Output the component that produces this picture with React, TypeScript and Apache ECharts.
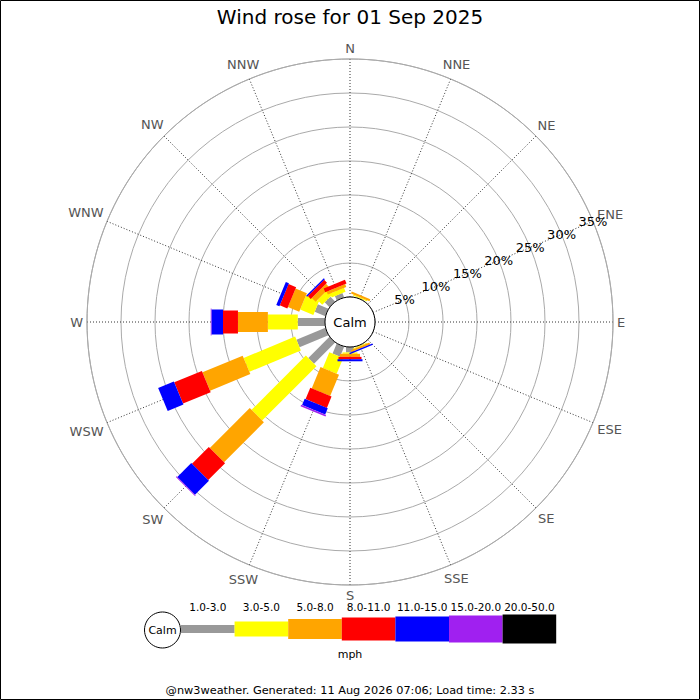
import React, { useEffect, useRef } from "react";
import * as echarts from "echarts";

// ---- data (percent of observations) ----
const DIRECTIONS = ["N", "NNE", "NE", "ENE", "E", "ESE", "SE", "SSE", "S", "SSW", "SW", "WSW", "W", "WNW", "NW", "NNW"];
const SPEED_BINS = ["1.0-3.0", "3.0-5.0", "5.0-8.0", "8.0-11.0", "11.0-15.0", "15.0-20.0", "20.0-50.0"];
const RADIAL_TICKS = [0, 5, 10, 15, 20, 25, 30, 35];

//                 N    NNE   NE  ENE  E  ESE  SE  SSE   S     SSW  SW    WSW  W    WNW  NW   NNW
const BIN_1_3   = [0, 0.1,  0, 0, 0, 0, 0, 0.1, 0.8,  1.6, 4.4,  4.6, 4.0, 1.7, 1.0, 0.7];
const BIN_3_5   = [0, 0.15, 0, 0, 0, 0, 0, 0.1, 0.2,  2.5, 11.3, 8.2, 4.4, 2.1, 1.0, 0.6];
const BIN_5_8   = [0, 0.3,  0, 0, 0, 0, 0, 0.3, 0.45, 3.4, 8.3,  6.4, 4.4, 1.8, 0.8, 0.45];
const BIN_8_11  = [0, 0,    0, 0, 0, 0, 0, 0,   0.35, 1.8, 3.5,  4.4, 2.2, 1.2, 0.6, 0.6];
const BIN_11_15 = [0, 0,    0, 0, 0, 0, 0, 0.2, 0.3,  1.0, 2.9,  2.5, 1.7, 0.5, 0.2, 0];
const BIN_15_20 = [0, 0,    0, 0, 0, 0, 0, 0,   0,    0.25, 0.15, 0,  0.1, 0,   0,   0];
const BIN_20_50 = [0, 0,    0, 0, 0, 0, 0, 0,   0,    0,   0,    0,   0,   0,   0,   0];

const BIN_VALUES = [BIN_1_3, BIN_3_5, BIN_5_8, BIN_8_11, BIN_11_15, BIN_15_20, BIN_20_50];

// ---- styles ----
const BIN_COLORS = ["#999999", "#ffff00", "#ffa500", "#ff0000", "#0000ff", "#a020f0", "#000000"];
const BIN_WIDTHS = [8, 15, 20, 23, 25, 27, 29];
const CENTER: [number, number] = [350, 322];
const R_INNER = 25;
const R_OUTER = 263;
const FONT = "DejaVu Sans";
const DIR_FONT_SIZE = 13;

function measure(text: string, size: number): number {
  try {
    const ctx = document.createElement("canvas").getContext("2d");
    if (ctx) {
      ctx.font = `${size}px "${FONT}"`;
      return ctx.measureText(text).width;
    }
  } catch (e) {
    /* ignore */
  }
  return text.length * size * 0.7;
}

function buildSeries() {
  const cum = DIRECTIONS.map(() => 0);
  return BIN_VALUES.map((vals, b) => {
    const data: number[][] = [];
    vals.forEach((v, d) => {
      const start = cum[d];
      const end = start + v;
      cum[d] = end;
      if (v > 0) data.push([start, end, d * 22.5]);
    });
    const halfW = BIN_WIDTHS[b] / 2;
    const color = BIN_COLORS[b];
    return {
      type: "custom",
      name: SPEED_BINS[b],
      coordinateSystem: "polar",
      polarIndex: 0,
      dimensions: ["start", "end", "angle"],
      encode: { radius: 1, angle: 2 },
      z: 3,
      data,
      renderItem: (params: any, api: any) => {
        const s = api.value(0);
        const e = api.value(1);
        const a = api.value(2);
        const cs = params.coordSys;
        const p0 = api.coord([s, a]);
        const p1 = api.coord([e, a]);
        const dx = p1[0] - cs.cx;
        const dy = p1[1] - cs.cy;
        const len = Math.hypot(dx, dy) || 1;
        const ux = dx / len;
        const uy = dy / len;
        const nx = -uy * halfW;
        const ny = ux * halfW;
        return {
          type: "polygon",
          shape: {
            points: [
              [p0[0] + nx, p0[1] + ny],
              [p1[0] + nx, p1[1] + ny],
              [p1[0] - nx, p1[1] - ny],
              [p0[0] - nx, p0[1] - ny],
            ],
          },
          style: { fill: color, stroke: null },
        };
      },
    };
  });
}

// Compass labels placed just outside the outer ring, through the polar coordinate system
function buildDirectionLabels() {
  const rMax = RADIAL_TICKS[RADIAL_TICKS.length - 1];
  return {
    type: "custom",
    name: "directions",
    coordinateSystem: "polar",
    polarIndex: 0,
    dimensions: ["radius", "angle"],
    encode: { radius: 0, angle: 1 },
    silent: true,
    z: 4,
    data: DIRECTIONS.map((_, i) => [rMax, i * 22.5]),
    renderItem: (params: any, api: any) => {
      const name = DIRECTIONS[params.dataIndex];
      const cs = params.coordSys;
      const p = api.coord([api.value(0), api.value(1)]);
      const dx = p[0] - cs.cx;
      const dy = p[1] - cs.cy;
      const len = Math.hypot(dx, dy) || 1;
      const ux = dx / len;
      const uy = dy / len;
      const hw = measure(name, DIR_FONT_SIZE) / 2;
      const hh = 6.5;
      const d = 4 + hw * Math.abs(ux) + hh * Math.abs(uy);
      return {
        type: "text",
        x: p[0] + ux * d,
        y: p[1] + uy * d,
        style: {
          text: name,
          fill: "#555555",
          font: `${DIR_FONT_SIZE}px "${FONT}"`,
          align: "center",
          verticalAlign: "middle",
        },
      };
    },
  };
}

function buildLegend() {
  const els: any[] = [];
  const x0 = 181;
  const segW = 53.6;
  const cy = 629;
  SPEED_BINS.forEach((label, i) => {
    const h = BIN_WIDTHS[i];
    els.push({
      type: "rect",
      shape: { x: x0 + i * segW, y: cy - h / 2, width: segW, height: h },
      style: { fill: BIN_COLORS[i] },
      z: 5,
    });
    els.push({
      type: "text",
      x: x0 + i * segW + segW / 2,
      y: 607,
      style: { text: label, fill: "#000", font: `10.5px "${FONT}"`, align: "center", verticalAlign: "middle" },
      z: 5,
    });
  });
  els.push({
    type: "circle",
    shape: { cx: 162.5, cy: 630, r: 18 },
    style: { fill: "#fff", stroke: "#000", lineWidth: 1 },
    z: 6,
  });
  els.push({
    type: "text",
    x: 162.5,
    y: 630,
    style: { text: "Calm", fill: "#000", font: `11px "${FONT}"`, align: "center", verticalAlign: "middle" },
    z: 7,
  });
  els.push({
    type: "text",
    x: 350,
    y: 654,
    style: { text: "mph", fill: "#000", font: `11px "${FONT}"`, align: "center", verticalAlign: "middle" },
    z: 5,
  });
  return els;
}

export default function App() {
  const ref = useRef<HTMLDivElement>(null);
  useEffect(() => {
    if (!ref.current) return;
    const chart = echarts.init(ref.current, undefined, { renderer: "svg" });
    const option: any = {
      animation: false,
      backgroundColor: "#ffffff",
      textStyle: { fontFamily: FONT },
      title: {
        text: "Wind rose for 01 Sep 2025",
        left: "center",
        top: 2,
        textStyle: { fontSize: 20, fontWeight: "normal", color: "#000", fontFamily: FONT },
      },
      polar: [
        { center: CENTER, radius: [R_INNER, R_OUTER] },
        { center: CENTER, radius: [R_INNER, R_OUTER] },
      ],
      angleAxis: [
        {
          polarIndex: 0,
          type: "value",
          min: 0,
          max: 360,
          interval: 22.5,
          startAngle: 90,
          clockwise: true,
          axisLine: { show: true, lineStyle: { color: "#aaaaaa", width: 1 } },
          axisTick: { show: false },
          axisLabel: { show: false },
          splitLine: { show: true, lineStyle: { color: "#333333", type: [1, 2], width: 1 } },
        },
        {
          polarIndex: 1,
          type: "value",
          min: 0,
          max: 360,
          startAngle: 22.5,
          show: false,
        },
      ],
      radiusAxis: [
        {
          polarIndex: 0,
          type: "value",
          min: RADIAL_TICKS[0],
          max: RADIAL_TICKS[RADIAL_TICKS.length - 1],
          interval: 5,
          axisLine: { show: false },
          axisTick: { show: false },
          axisLabel: { show: false },
          splitLine: { show: true, lineStyle: { color: "#aaaaaa", width: 1, type: "solid" } },
        },
        {
          polarIndex: 1,
          type: "value",
          min: RADIAL_TICKS[0],
          max: RADIAL_TICKS[RADIAL_TICKS.length - 1],
          interval: 5,
          axisLine: { show: false },
          axisTick: { show: false },
          splitLine: { show: false },
          axisLabel: {
            show: true,
            margin: 0,
            align: "center",
            verticalAlign: "middle",
            color: "#000",
            fontSize: 13,
            fontFamily: FONT,
            formatter: (v: number) => (v === 0 ? "" : `${v}%`),
          },
          z: 4,
        },
      ],
      series: [...buildSeries(), buildDirectionLabels()],
      graphic: [
        {
          type: "rect",
          shape: { x: 0.5, y: 0.5, width: 699, height: 699 },
          style: { fill: "none", stroke: "#000", lineWidth: 1 },
          z: 20,
        },
        {
          type: "circle",
          shape: { cx: CENTER[0], cy: CENTER[1], r: R_INNER },
          style: { fill: "#fff", stroke: "#000", lineWidth: 1 },
          z: 10,
        },
        {
          type: "text",
          x: CENTER[0],
          y: CENTER[1],
          style: { text: "Calm", fill: "#000", font: `13px "${FONT}"`, align: "center", verticalAlign: "middle" },
          z: 11,
        },
        ...buildLegend(),
        {
          type: "text",
          x: 350,
          y: 690,
          style: {
            text: "@nw3weather. Generated: 11 Aug 2026 07:06; Load time: 2.33 s",
            fill: "#000",
            font: `11.3px "${FONT}"`,
            align: "center",
            verticalAlign: "middle",
          },
          z: 5,
        },
      ],
    };
    chart.setOption(option);
    return () => chart.dispose();
  }, []);
  return (
    <div
      ref={ref}
      style={{ position: "fixed", left: 0, top: 0, width: 700, height: 700, background: "#fff" }}
    />
  );
}
